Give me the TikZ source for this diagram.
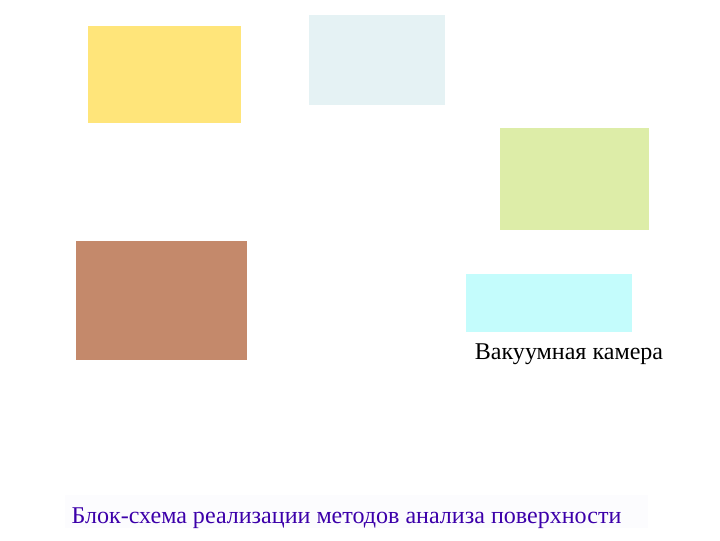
\documentclass[tikz,border=0pt]{standalone}
\usepackage{fontspec}
\setmainfont{Liberation Serif}
\usepackage{tikz}
\definecolor{boxyellow}{RGB}{255,229,122}
\definecolor{boxgrey}{RGB}{229,242,244}
\definecolor{boxgreen}{RGB}{221,237,168}
\definecolor{boxbrown}{RGB}{196,137,107}
\definecolor{boxcyan}{RGB}{196,252,252}
\definecolor{capviolet}{RGB}{60,0,170}
\definecolor{capback}{RGB}{252,252,254}

\begin{document}
\begin{tikzpicture}[x=0.025cm, y=-0.025cm]
\useasboundingbox (0,0) rectangle (720,540);
%\node {\includegraphics{ref.jpg}};
\fill[boxyellow] (88,26) rectangle (241,123);
\fill[boxgrey] (309,15) rectangle (445,105);
\fill[boxgreen] (500,128) rectangle (649,230);
\fill[boxbrown] (76,241) rectangle (247,360);
\fill[boxcyan] (466,274) rectangle (632,332);
\node[font=\fontsize{17.1}{20}\selectfont] (vacuum) at (569,354) {Вакуумная камера};
\fill[capback] (65,495) rectangle (648,528);
\node[font=\fontsize{17.1}{20}\selectfont, text=capviolet] (caption) at (346.5,518) {Блок-схема реализации методов анализа поверхности};
\end{tikzpicture}
\end{document}
